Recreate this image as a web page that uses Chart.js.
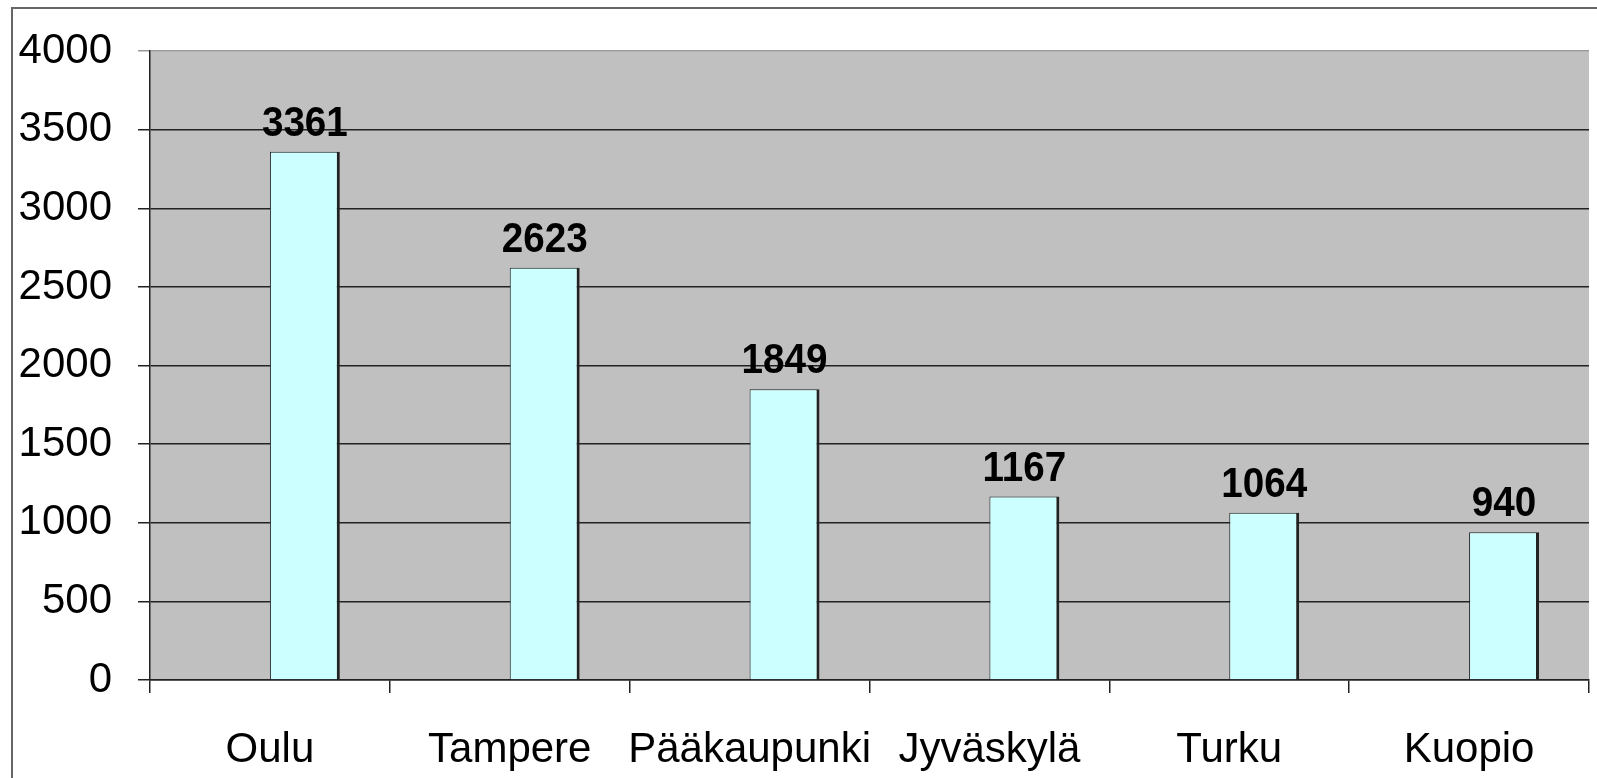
<!DOCTYPE html>
<html>
<head>
<meta charset="utf-8">
<script src="https://cdn.jsdelivr.net/npm/chart.js@4/dist/chart.umd.min.js"></script>
<style>
    body { margin: 0; background: #fff; }
</style>
</head>
<body>
<canvas id="cityChart" width="1597" height="778"></canvas>
<script>
var cities = ['Oulu', 'Tampere', 'Pääkaupunki', 'Jyväskylä', 'Turku', 'Kuopio'];
var counts = [3361, 2623, 1849, 1167, 1064, 940];
// tyhjä sarja, joka siirtää pylväät keskikohdan oikealle puolelle kuten alkuperäisessä
var emptySeries = [null, null, null, null, null, null];
var yTicks = [0, 500, 1000, 1500, 2000, 2500, 3000, 3500, 4000];

var FONT = '"Liberation Sans", Arial, sans-serif';

// kehys ja harmaa piirtoalue
var frame = {
    id: 'frame',
    beforeDraw: function (chart) {
        var c = chart.ctx, a = chart.chartArea;
        c.save();
        c.fillStyle = '#c0c0c0';
        c.fillRect(a.left, a.top, a.right - a.left, a.bottom - a.top);
        c.strokeStyle = '#666';
        c.lineWidth = 2;
        c.strokeRect(12, 8, 1700, 900);
        c.restore();
    }
};

// arvot pylväiden yläpuolelle
var valueLabels = {
    id: 'valueLabels',
    afterDatasetsDraw: function (chart) {
        var c = chart.ctx;
        var meta = chart.getDatasetMeta(1);
        c.save();
        c.font = 'bold 42px ' + FONT;
        c.fillStyle = '#000';
        c.textAlign = 'center';
        c.textBaseline = 'alphabetic';
        meta.data.forEach(function (bar, i) {
            c.save();
            c.translate(bar.x, bar.y - 16);
            c.scale(0.92, 1);
            c.fillText(counts[i], 0, 0);
            c.restore();
        });
        c.restore();
    }
};

var ctx = document.getElementById('cityChart');
new Chart(ctx, {
    type: 'bar',
    data: {
        labels: cities,
        datasets: [
            {
                label: '',
                data: emptySeries
            },
            {
                label: 'Määrä',
                data: counts,
                backgroundColor: '#ccffff',
                borderColor: '#222',
                borderWidth: {top: 1, left: 1, right: 3, bottom: 0},
                borderSkipped: 'start'
            }]
    },
    options: {
        responsive: false,
        animation: false,
        categoryPercentage: 0.583,
        barPercentage: 1,
        layout: {padding: {left: 0, top: 51, right: 8, bottom: 0}},
        plugins: {
            legend: {display: false},
            tooltip: {enabled: false}
        },
        scales: {
            x: {
                afterFit: function (s) { s.height = 98; },
                grid: {
                    offset: true,
                    drawOnChartArea: false,
                    drawTicks: true,
                    tickLength: 13,
                    color: '#222',
                    lineWidth: 1.5
                },
                border: {display: true, color: '#222', width: 1.5},
                ticks: {
                    color: '#000',
                    font: {family: FONT, size: 42},
                    padding: 32,
                    maxRotation: 0,
                    autoSkip: false
                }
            },
            y: {
                min: 0,
                max: 4000,
                afterFit: function (s) { s.width = 150; },
                afterBuildTicks: function (s) {
                    s.ticks = yTicks.map(function (v) { return {value: v}; });
                },
                grid: {
                    drawTicks: true,
                    tickLength: 12,
                    color: function (c) { return c.tick && c.tick.value === 4000 ? '#999' : '#222'; },
                    lineWidth: 1.5
                },
                border: {display: true, color: '#222', width: 1.5},
                ticks: {
                    color: '#000',
                    font: {family: FONT, size: 42},
                    padding: 26,
                    callback: function (v) { return String(v); }
                }
            }
        }
    },
    plugins: [frame, valueLabels]
});
</script>
</body>
</html>
